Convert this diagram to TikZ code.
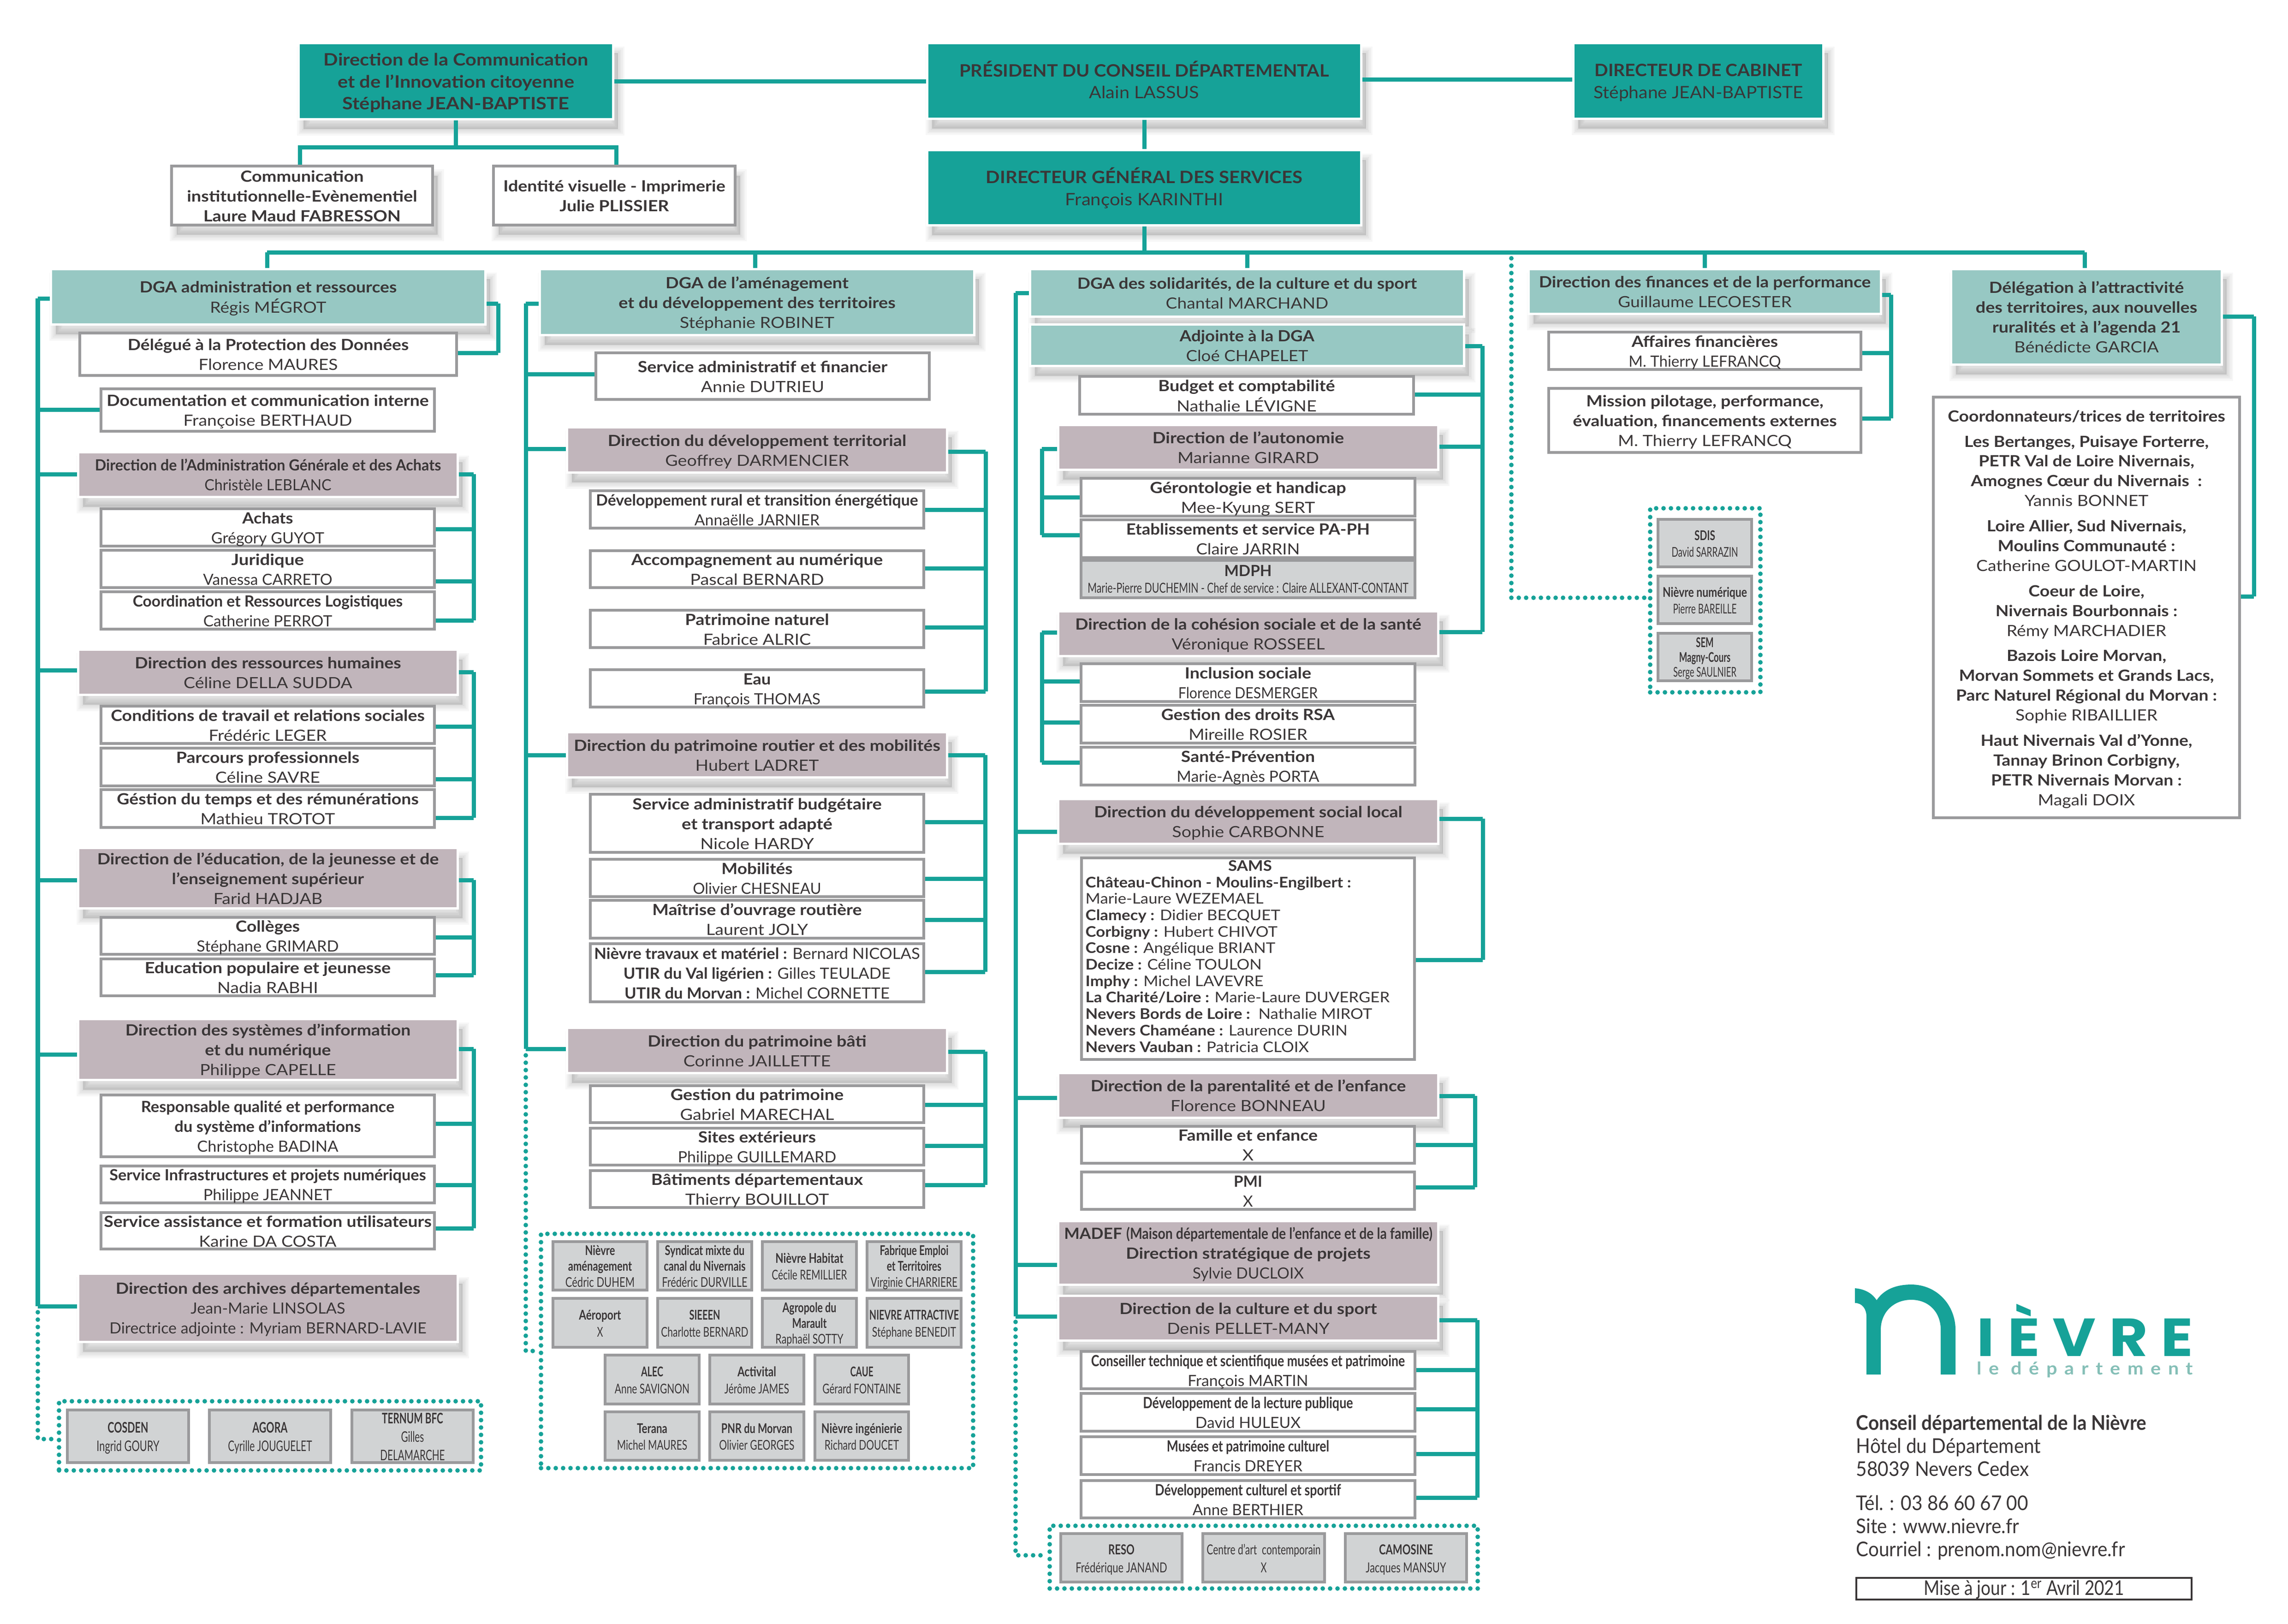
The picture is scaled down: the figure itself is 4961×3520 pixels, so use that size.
\documentclass[tikz,border=0pt]{standalone}
\usepackage{fontspec}
\usepackage{graphicx}
\usetikzlibrary{shadows}
\setmainfont{Lato}[BoldFont={Lato Bold}]
\newfontfamily\logof[LetterSpace=22]{Poppins}
\newfontfamily\logos[LetterSpace=38]{Lato Bold}
\definecolor{tealc}{HTML}{16A298}
\definecolor{ltealc}{HTML}{97C8C3}
\definecolor{mauvec}{HTML}{C1B5BB}
\definecolor{grayf}{HTML}{D1D3D4}
\definecolor{bord}{HTML}{9A9A9C}
\definecolor{txt}{HTML}{3A3637}
\definecolor{slog}{HTML}{85BFB7}
\newsavebox\fitbox
\newsavebox\flbox
\newcommand\Tb[1]{\begin{tabular}{@{}c@{}}#1\end{tabular}}
\newcommand\TbL[1]{\begin{tabular}{@{}l@{}}#1\end{tabular}}
\newcommand\FL[2]{\sbox\flbox{#2}\pgfmathsetmacro\flr{#1*0.28453/\the\wd\flbox}\scalebox{\flr}[1]{\usebox\flbox}}
\newcommand\Ct[1]{\sbox\fitbox{\Tb{#1}}\raisebox{\dimexpr(\dp\fitbox-\ht\fitbox)/2-1.3pt\relax}{\usebox\fitbox}}
\newcommand\Fit[2]{\sbox\fitbox{\Tb{#2}}\pgfmathsetmacro\fitr{#1*0.28453/\the\wd\fitbox}\raisebox{\dimexpr(\dp\fitbox-\ht\fitbox)/2-1.3pt\relax}{\scalebox{\fitr}[1]{\usebox\fitbox}}}
\newcommand\FitL[2]{\sbox\fitbox{\TbL{#2}}\pgfmathsetmacro\fitr{#1*0.28453/\the\wd\fitbox}\raisebox{\dimexpr(\dp\fitbox-\ht\fitbox)/2-1.3pt\relax}{\scalebox{\fitr}[1]{\usebox\fitbox}}}
\newcommand\Nm[3]{\Fit{#1}{\textbf{#2}\\#3}}
\newcommand\NL[4]{\Ct{\FL{#1}{\textbf{#2}}\\\FL{#3}{#4}}}
% boxes: gray-outlined, outer edges given
\newcommand\Bx[7]{\node[#1,minimum width={(#5-#3-6)*0.01cm},minimum height={(#6-#4-6)*0.01cm}] (#2) at ({(#3+#5)/2},{(#4+#6)/2}) {#7};}
% filled boxes with white rim, fill edges given
\newcommand\Cx[7]{\node[#1,minimum width={(#5-#3+5)*0.01cm},minimum height={(#6-#4+5)*0.01cm}] (#2) at ({(#3+#5)/2},{(#4+#6)/2}) {#7};}
\newcommand\RB[4]{\draw[conn] (#2.east |- 0,#3) -- (#1,#3);
 \foreach \n/\y in {#4}{\draw[conn] (\n.east |- 0,\y) -- (#1,\y); \xdef\lasty{\y}}
 \draw[conn,line cap=square] (#1,#3) -- (#1,\lasty);}
\newcommand\LB[4]{\draw[conn] (#2.west |- 0,#3) -- (#1,#3);
 \foreach \n/\y in {#4}{\draw[conn] (\n.west |- 0,\y) -- (#1,\y); \xdef\lasty{\y}}
 \draw[conn,line cap=square] (#1,#3) -- (#1,\lasty);}
\tikzset{
 conn/.style={draw=tealc,line width=2.56pt},
 dots/.style={draw=tealc,line width=2.8pt,line cap=round,dash pattern=on 0pt off 4.55pt},
 fs/.style 2 args={font=\fontsize{#1}{#2}\selectfont},
 basen/.style={inner sep=0pt,text=txt,text height=0pt,text depth=0pt,fs={9.5}{12.2}},
 gbox/.style={basen,draw=bord,line width=1.7pt,fill=white},
 sbox/.style={basen,draw=bord,line width=1.7pt,fill=grayf},
 softshadow/.style={
  general shadow={shadow xshift=3pt,shadow yshift=-6pt,draw=black,fill=black,draw opacity=.03,fill opacity=.03,line width=8pt},
  general shadow={shadow xshift=3pt,shadow yshift=-6pt,draw=black,fill=black,draw opacity=.03,fill opacity=.03,line width=6pt},
  general shadow={shadow xshift=3pt,shadow yshift=-6pt,draw=black,fill=black,draw opacity=.03,fill opacity=.03,line width=4pt},
  general shadow={shadow xshift=3pt,shadow yshift=-6pt,draw=black,fill=black,draw opacity=.03,fill opacity=.03,line width=2pt}},
 tbox/.style={basen,softshadow,fill=tealc,draw=white,line width=1.42pt,fs={10.5}{13.5}},
 lbox/.style={basen,softshadow,fill=ltealc,draw=white,line width=1.42pt},
 mbox/.style={basen,softshadow,fill=mauvec,draw=white,line width=1.42pt},
 gsbox/.style={gbox,softshadow},
 dotbox/.style={dots,inner sep=0pt},
 plain/.style={inner sep=0pt,text=txt},
}
\begin{document}
\begin{tikzpicture}[x=0.01cm,y=-0.01cm]
\useasboundingbox (0,0) rectangle (4961,3520);
\fill[white] (0,0) rectangle (4961,3520);
% ---------- top
\Cx{tbox}{comm}{650}{96}{1327}{256}{\Fit{573}{\textbf{Direction de la Communication}\\\textbf{et de l’Innovation citoyenne}\\\textbf{Stéphane JEAN-BAPTISTE}}}
\Cx{tbox}{pres}{2013}{96}{2949}{255}{\Nm{801}{PRÉSIDENT DU CONSEIL DÉPARTEMENTAL}{Alain LASSUS}}
\Cx{tbox}{cab}{3414}{96}{3951}{255}{\Nm{454}{DIRECTEUR DE CABINET}{Stéphane JEAN-BAPTISTE}}
\Cx{tbox}{dgs}{2013}{328}{2949}{486}{\Nm{686}{DIRECTEUR GÉNÉRAL DES SERVICES}{François KARINTHI}}
\Bx{gsbox}{ccom}{369}{357}{941}{491}{\Fit{499}{\textbf{Communication}\\\textbf{institutionnelle-Evènementiel}\\\textbf{Laure Maud FABRESSON}}}
\Bx{gsbox}{cidv}{1067}{357}{1597}{491}{\Fit{481}{\textbf{Identité visuelle - Imprimerie}\\\textbf{Julie PLISSIER}}}
% ---------- column 1
\Cx{lbox}{dgaa}{113}{586}{1050}{701}{\Nm{557}{DGA administration et ressources}{Régis MÉGROT}}
\Bx{gbox}{dpd}{170}{719}{993}{817}{\Nm{609}{Délégué à la Protection des Données}{Florence MAURES}}
\Bx{gbox}{doc}{216}{840}{945}{938}{\Nm{698}{Documentation et communication interne}{Françoise BERTHAUD}}
\Cx{mbox}{dadm}{172}{983}{990}{1075}{\Nm{750}{Direction de l’Administration Générale et des Achats}{Christèle LEBLANC}}
\Bx{gbox}{ach}{216}{1100}{945}{1187}{\NL{110}{Achats}{245}{Grégory GUYOT}}
\Bx{gbox}{jur}{216}{1190}{945}{1277}{\NL{157}{Juridique}{280}{Vanessa CARRETO}}
\Bx{gbox}{coo}{216}{1280}{945}{1367}{\Nm{585}{Coordination et Ressources Logistiques}{Catherine PERROT}}
\Cx{mbox}{drh}{172}{1411}{990}{1504}{\Nm{577}{Direction des ressources humaines}{Céline DELLA SUDDA}}
\Bx{gbox}{cond}{216}{1528}{945}{1615}{\Nm{680}{Conditions de travail et relations sociales}{Frédéric LEGER}}
\Bx{gbox}{parc}{216}{1619}{945}{1707}{\Nm{397}{Parcours professionnels}{Céline SAVRE}}
\Bx{gbox}{gest}{216}{1709}{945}{1797}{\Nm{654}{Géstion du temps et des rémunérations}{Mathieu TROTOT}}
\Cx{mbox}{dedu}{172}{1841}{990}{1967}{\Fit{740}{\textbf{Direction de l’éducation, de la jeunesse et de}\\\textbf{l’enseignement supérieur}\\Farid HADJAB}}
\Bx{gbox}{coll}{216}{1986}{945}{2072}{\NL{139}{Collèges}{308}{Stéphane GRIMARD}}
\Bx{gbox}{edup}{216}{2076}{945}{2162}{\Nm{533}{Education populaire et jeunesse}{Nadia RABHI}}
\Cx{mbox}{dsi}{172}{2212}{990}{2339}{\Fit{618}{\textbf{Direction des systèmes d’information}\\\textbf{et du numérique}\\Philippe CAPELLE}}
\Bx{gbox}{resp}{216}{2371}{945}{2511}{\Fit{549}{\textbf{Responsable qualité et performance}\\\textbf{du système d’informations}\\Christophe BADINA}}
\Bx{gbox}{sinf}{216}{2525}{945}{2611}{\Nm{686}{Service Infrastructures et projets numériques}{Philippe JEANNET}}
\Bx{gbox}{sass}{216}{2626}{945}{2711}{\Nm{710}{Service assistance et formation utilisateurs}{Karine DA COSTA}}
\Cx{mbox}{darch}{172}{2764}{990}{2907}{\Ct{\FL{660}{\textbf{Direction des archives départementales}}\\\FL{335}{Jean-Marie LINSOLAS}\\\FL{687}{Directrice adjointe : Myriam BERNARD-LAVIE}}}
\node[dotbox,draw,minimum width={915*0.01cm},minimum height={150*0.01cm}] (dbA) at (585.5,3113) {};
\Bx{sbox,fs={9}{11.4}}{cos}{143}{3054}{412}{3174}{\NL{88}{COSDEN}{136}{Ingrid GOURY}}
\Bx{sbox,fs={9}{11.4}}{ago}{451}{3054}{720}{3174}{\NL{76}{AGORA}{182}{Cyrille JOUGUELET}}
\Bx{sbox,fs={9}{11.4}}{ter}{760}{3054}{1029}{3174}{\Fit{140}{\textbf{TERNUM BFC}\\Gilles\\DELAMARCHE}}
% ---------- column 2
\Cx{lbox}{dgab}{1173}{586}{2110}{724}{\Fit{600}{\textbf{DGA de l’aménagement}\\\textbf{et du développement des territoires}\\Stéphanie ROBINET}}
\Bx{gbox}{sadm}{1289}{762}{2018}{869}{\Nm{541}{Service administratif et financier}{Annie DUTRIEU}}
\Cx{mbox}{ddt}{1232}{929}{2051}{1022}{\Nm{647}{Direction du développement territorial}{Geoffrey DARMENCIER}}
\Bx{gbox}{devr}{1277}{1061}{2006}{1148}{\Nm{698}{Développement rural et transition énergétique}{Annaëlle JARNIER}}
\Bx{gbox}{acc}{1277}{1191}{2006}{1277}{\Nm{545}{Accompagnement au numérique}{Pascal BERNARD}}
\Bx{gbox}{patn}{1277}{1320}{2006}{1407}{\Nm{312}{Patrimoine naturel}{Fabrice ALRIC}}
\Bx{gbox}{eau}{1277}{1449}{2006}{1536}{\NL{60}{Eau}{275}{François THOMAS}}
\Cx{mbox}{dpr}{1232}{1590}{2051}{1683}{\Nm{794}{Direction du patrimoine routier et des mobilités}{Hubert LADRET}}
\Bx{gbox}{sbud}{1277}{1719}{2006}{1851}{\Fit{540}{\textbf{Service administratif budgétaire}\\\textbf{et transport adapté}\\Nicole HARDY}}
\Bx{gbox}{mob}{1277}{1860}{2006}{1947}{\NL{154}{Mobilités}{278}{Olivier CHESNEAU}}
\Bx{gbox}{moa}{1277}{1949}{2006}{2037}{\Nm{454}{Maîtrise d’ouvrage routière}{Laurent JOLY}}
\Bx{gbox}{niev}{1277}{2043}{2006}{2175}{\Fit{706}{\textbf{Nièvre travaux et matériel :} Bernard NICOLAS\\\textbf{UTIR du Val ligérien :} Gilles TEULADE\\\textbf{UTIR du Morvan :} Michel CORNETTE}}
\Cx{mbox}{dpb}{1232}{2231}{2051}{2324}{\Nm{474}{Direction du patrimoine bâti}{Corinne JAILLETTE}}
\Bx{gbox}{gpat}{1277}{2351}{2006}{2437}{\Nm{375}{Gestion du patrimoine}{Gabriel MARECHAL}}
\Bx{gbox}{site}{1277}{2443}{2006}{2529}{\NL{255}{Sites extérieurs}{343}{Philippe GUILLEMARD}}
\Bx{gbox}{bat}{1277}{2535}{2006}{2621}{\Nm{459}{Bâtiments départementaux}{Thierry BOUILLOT}}
\node[dotbox,draw,minimum width={937*0.01cm},minimum height={508*0.01cm}] (dbB) at (1641.5,2929) {};
\Bx{sbox,fs={8.3}{9.7}}{rA}{1196}{2689}{1406}{2800}{\Fit{150}{\textbf{Nièvre}\\\textbf{aménagement}\\Cédric DUHEM}}
\Bx{sbox,fs={8.3}{9.7}}{rB}{1423}{2689}{1633}{2800}{\Fit{185}{\textbf{Syndicat mixte du}\\\textbf{canal du Nivernais}\\Frédéric DURVILLE}}
\Bx{sbox,fs={8.3}{10.5}}{rC}{1650}{2689}{1860}{2800}{\NL{147}{Nièvre Habitat}{163}{Cécile REMILLIER}}
\Bx{sbox,fs={8.3}{9.7}}{rD}{1877}{2689}{2087}{2800}{\Fit{188}{\textbf{Fabrique Emploi}\\\textbf{et Territoires}\\Virginie CHARRIERE}}
\Bx{sbox,fs={8.3}{10.5}}{rE}{1196}{2812}{1406}{2924}{\NL{91}{Aéroport}{13}{X}}
\Bx{sbox,fs={8.3}{10.5}}{rF}{1423}{2812}{1633}{2924}{\NL{67}{SIEEEN}{189}{Charlotte BERNARD}}
\Bx{sbox,fs={8.3}{9.7}}{rG}{1650}{2812}{1860}{2924}{\Fit{147}{\textbf{Agropole du}\\\textbf{Marault}\\Raphaël SOTTY}}
\Bx{sbox,fs={8.3}{10.5}}{rH}{1877}{2812}{2087}{2924}{\NL{194}{NIEVRE ATTRACTIVE}{182}{Stéphane BENEDIT}}
\Bx{sbox,fs={8.3}{10.5}}{rI}{1309}{2935}{1519}{3047}{\NL{48}{ALEC}{162}{Anne SAVIGNON}}
\Bx{sbox,fs={8.3}{10.5}}{rJ}{1536}{2935}{1746}{3047}{\NL{84}{Activital}{140}{Jérôme JAMES}}
\Bx{sbox,fs={8.3}{10.5}}{rK}{1764}{2935}{1973}{3047}{\NL{50}{CAUE}{170}{Gérard FONTAINE}}
\Bx{sbox,fs={8.3}{10.5}}{rL}{1309}{3058}{1519}{3169}{\NL{66}{Terana}{152}{Michel MAURES}}
\Bx{sbox,fs={8.3}{10.5}}{rM}{1536}{3058}{1746}{3169}{\NL{154}{PNR du Morvan}{163}{Olivier GEORGES}}
\Bx{sbox,fs={8.3}{10.5}}{rN}{1764}{3058}{1973}{3169}{\NL{175}{Nièvre ingénierie}{161}{Richard DOUCET}}
% ---------- column 3
\Cx{lbox}{dgac}{2236}{586}{3172}{684}{\Nm{736}{DGA des solidarités, de la culture et du sport}{Chantal MARCHAND}}
\Cx{lbox}{adj}{2236}{706}{3172}{791}{\Nm{292}{Adjointe à la DGA}{Cloé CHAPELET}}
\Bx{gbox}{bud}{2338}{813}{3068}{901}{\Nm{383}{Budget et comptabilité}{Nathalie LÉVIGNE}}
\Cx{mbox}{daut}{2297}{924}{3116}{1016}{\Nm{415}{Direction de l’autonomie}{Marianne GIRARD}}
\Bx{gbox}{ger}{2341}{1034}{3071}{1122}{\Nm{425}{Gérontologie et handicap}{Mee-Kyung SERT}}
\Bx{gbox}{etab}{2341}{1124}{3071}{1212}{\Nm{528}{Etablissements et service PA-PH}{Claire JARRIN}}
\Bx{sbox,fs={9.5}{10.2}}{mdph}{2341}{1212}{3071}{1299}{\Ct{\FL{103}{\textbf{MDPH}}\\\FL{695}{\fontsize{8.5}{10}\selectfont Marie-Pierre DUCHEMIN - Chef de service : Claire ALLEXANT-CONTANT}}}
\Cx{mbox}{dcoh}{2297}{1328}{3116}{1420}{\Nm{750}{Direction de la cohésion sociale et de la santé}{Véronique ROSSEEL}}
\Bx{gbox}{incl}{2341}{1436}{3071}{1524}{\NL{274}{Inclusion sociale}{302}{Florence DESMERGER}}
\Bx{gbox}{grsa}{2341}{1526}{3071}{1614}{\Nm{376}{Gestion des droits RSA}{Mireille ROSIER}}
\Bx{gbox}{sant}{2341}{1617}{3071}{1705}{\NL{290}{Santé-Prévention}{309}{Marie-Agnès PORTA}}
\Cx{mbox}{ddsl}{2297}{1735}{3116}{1827}{\Nm{668}{Direction du développement social local}{Sophie CARBONNE}}
\Bx{gbox}{sams}{2342}{1857}{3070}{2300}{}
\node[basen,fs={9}{10.15},anchor=west] (samst) at (2353,2073) {\FitL{659}{\multicolumn{1}{@{}c@{}}{\hspace*{14pt}\textbf{SAMS}}\\\textbf{Château-Chinon - Moulins-Engilbert :}\\Marie-Laure WEZEMAEL\\\textbf{Clamecy :} Didier BECQUET\\\textbf{Corbigny :} Hubert CHIVOT\\\textbf{Cosne :} Angélique BRIANT\\\textbf{Decize :} Céline TOULON\\\textbf{Imphy :} Michel LAVEVRE\\\textbf{La Charité/Loire :} Marie-Laure DUVERGER\\\textbf{Nevers Bords de Loire :}\ \ Nathalie MIROT\\\textbf{Nevers Chaméane :} Laurence DURIN\\\textbf{Nevers Vauban :} Patricia CLOIX}};
\Cx{mbox}{dpe}{2297}{2329}{3116}{2421}{\Nm{683}{Direction de la parentalité et de l’enfance}{Florence BONNEAU}}
\Bx{gbox}{fam}{2342}{2439}{3070}{2525}{\Nm{302}{Famille et enfance}{X}}
\Bx{gbox}{pmi}{2342}{2538}{3070}{2625}{\Nm{62}{PMI}{X}}
\Cx{mbox}{madef}{2297}{2650}{3116}{2783}{\Ct{\FL{798}{\textbf{MADEF} \scalebox{.8}[1]{\textbf{(Maison départementale de l’enfance et de la famille)}}}\\\FL{530}{\textbf{Direction stratégique de projets}}\\\FL{241}{Sylvie DUCLOIX}}}
\Cx{mbox}{dcs}{2297}{2812}{3116}{2904}{\Nm{558}{Direction de la culture et du sport}{Denis PELLET-MANY}}
\Bx{gbox}{cons}{2341}{2927}{3071}{3014}{\NL{680}{Conseiller technique et scientifique musées et patrimoine}{261}{François MARTIN}}
\Bx{gbox}{lect}{2341}{3018}{3071}{3106}{\NL{455}{Développement de la lecture publique}{228}{David HULEUX}}
\Bx{gbox}{mus}{2341}{3112}{3071}{3200}{\NL{352}{Musées et patrimoine culturel}{236}{Francis DREYER}}
\Bx{gbox}{cult}{2341}{3207}{3071}{3294}{\NL{403}{Développement culturel et sportif}{240}{Anne BERTHIER}}
\node[dotbox,draw,minimum width={928*0.01cm},minimum height={136*0.01cm}] (dbC) at (2740,3376) {};
\Bx{sbox,fs={8.5}{11.3}}{res}{2297}{3322}{2566}{3433}{\NL{57}{RESO}{198}{Frédérique JANAND}}
\Bx{sbox,fs={8.5}{11.3}}{cen}{2605}{3322}{2875}{3433}{\Ct{\FL{247}{Centre d’art\ \ contemporain}\\\FL{13}{X}}}
\Bx{sbox,fs={8.5}{11.3}}{cam}{2914}{3322}{3183}{3433}{\NL{117}{CAMOSINE}{174}{Jacques MANSUY}}
% ---------- column 4
\Cx{lbox}{dfin}{3317}{586}{4076}{678}{\Nm{719}{Direction des finances et de la performance}{Guillaume LECOESTER}}
\Bx{gbox}{aff}{3355}{717}{4038}{804}{\NL{317}{Affaires financières}{330}{M. Thierry LEFRANCQ}}
\Bx{gbox}{mis}{3355}{839}{4038}{984}{\Fit{572}{\textbf{Mission pilotage, performance,}\\\textbf{évaluation, financements externes}\\M. Thierry LEFRANCQ}}
\node[dotbox,draw,minimum width={239*0.01cm},minimum height={399*0.01cm}] (dbD) at (3697.5,1301.5) {};
\Bx{sbox,fs={8.3}{10.2}}{sdis}{3592}{1123}{3801}{1232}{\NL{45}{SDIS}{144}{David SARRAZIN}}
\Bx{sbox,fs={8.3}{10.2}}{nnum}{3592}{1246}{3801}{1355}{\NL{183}{Nièvre numérique}{138}{Pierre BAREILLE}}
\Bx{sbox,fs={8.3}{9.1}}{sem}{3592}{1370}{3801}{1479}{\Fit{137}{\textbf{SEM}\\\textbf{Magny-Cours}\\Serge SAULNIER}}
% ---------- column 5
\Cx{lbox}{deleg}{4233}{586}{4815}{788}{\Fit{480}{\textbf{Délégation à l’attractivité}\\\textbf{des territoires, aux nouvelles}\\\textbf{ruralités et à l’agenda 21}\\Bénédicte GARCIA}}
\Bx{gbox}{coord}{4189}{858}{4859}{1776}{\Fit{601}{\textbf{Coordonnateurs/trices de territoires}\\[3.4pt]\textbf{Les Bertanges, Puisaye Forterre,}\\\textbf{PETR Val de Loire Nivernais,}\\\textbf{Amognes Cœur du Nivernais\ \ :}\\Yannis BONNET\\[3.4pt]\textbf{Loire Allier, Sud Nivernais,}\\\textbf{Moulins Communauté :}\\Catherine GOULOT-MARTIN\\[3.4pt]\textbf{Coeur de Loire,}\\\textbf{Nivernais Bourbonnais :}\\Rémy MARCHADIER\\[3.4pt]\textbf{Bazois Loire Morvan,}\\\textbf{Morvan Sommets et Grands Lacs,}\\\textbf{Parc Naturel Régional du Morvan :}\\Sophie RIBAILLIER\\[3.4pt]\textbf{Haut Nivernais Val d’Yonne,}\\\textbf{Tannay Brinon Corbigny,}\\\textbf{PETR Nivernais Morvan :}\\Magali DOIX}}
% ---------- logo
\fill[tealc] (4022,2793) .. controls (4045,2795) and (4060,2805) .. (4069,2819) .. controls (4085,2795) and (4112,2785) .. (4144,2785) .. controls (4200,2785) and (4240,2830) .. (4240,2883) -- (4240,2980) -- (4208,2980) -- (4208,2883) .. controls (4208,2845) and (4182,2818) .. (4144,2818) .. controls (4106,2818) and (4078,2845) .. (4078,2883) -- (4078,2980) -- (4047,2980) -- (4047,2855) .. controls (4047,2838) and (4038,2825) .. (4022,2825) -- cycle;
\node[plain,text=tealc,anchor=base west,font=\fontsize{33}{33}\logof\bfseries] (lgA) at (4286,2940) {\FL{468}{IÈVRE}};
\node[plain,text=slog,anchor=base west,font=\fontsize{10.8}{12}\logos] (lgB) at (4286,2980) {\FL{468}{le département}};
\node[plain,fs={12.5}{14.2},anchor=west,text height=0pt,text depth=0pt] (addr) at (4024,3223) {\FitL{629}{\textbf{Conseil départemental de la Nièvre}\\Hôtel du Département\\58039 Nevers Cedex\\[7pt]Tél. : 03 86 60 67 00\\Site : www.nievre.fr\\Courriel : prenom.nom@nievre.fr}};
\Bx{basen,draw=txt,line width=.9pt,fs={12.5}{14}}{maj}{4022}{3418}{4755}{3471}{\Fit{434}{Mise à jour : 1\textsuperscript{er} Avril 2021}}
% ---------- connectors
\draw[conn] (comm.east |- 0,176) -- (pres.west |- 0,176);
\draw[conn] (pres.east |- 0,172) -- (cab.west |- 0,172);
\draw[conn] (pres.south) -- (dgs.north);
\coordinate (cj) at (comm.south |- 0,319);
\draw[conn] (comm.south) -- (cj);
\draw[conn,line cap=square] (ccom.north -| 650,0) -- (650,319) -- (1336,319) -- (cidv.north -| 1336,0);
\coordinate (busl) at (579,547);
\coordinate (busr) at (4520,547);
\draw[conn,line cap=square] (busl) -- (busr);
\draw[conn] (dgs.south) -- (dgs.south |- busl);
\draw[conn] (busl) -- (dgaa.north -| busl);
\draw[conn] (1637,547) -- (dgab.north -| 1637,0);
\draw[conn] (2704,547) -- (dgac.north -| 2704,0);
\draw[conn] (3696,547) -- (dfin.north -| 3696,0);
\draw[conn] (busr) -- (deleg.north -| busr);
% column 1
\LB{82}{dgaa}{647}{doc/888,dadm/1028,drh/1453,dedu/1908,dsi/2286,darch/2832}
\RB{1080}{dgaa}{658}{dpd/765}
\RB{1027}{dadm}{1028}{ach/1147,jur/1260,coo/1345}
\RB{1027}{drh}{1457}{cond/1575,parc/1689,gest/1773}
\RB{1027}{dedu}{1908}{coll/2032,edup/2114}
\RB{1027}{dsi}{2274}{resp/2436,sinf/2569,sass/2663}
\draw[dots] (82,2845) -- (82,3120) -- (dbA.west |- 0,3120);
% column 2
\LB{1140}{dgab}{658}{sadm/811,ddt/973,dpr/1637,dpb/2274}
\RB{2137}{ddt}{979}{devr/1105,acc/1232,patn/1360,eau/1499}
\RB{2136}{dpr}{1637}{sbud/1782,mob/1905,moa/1994,niev/2107}
\RB{2136}{dpb}{2280}{gpat/2395,site/2484,bat/2569}
\draw[dots] (1140,2288) -- (1140,2929) -- (dbB.west |- 0,2929);
% column 3
\LB{2202}{dgac}{635}{ddsl/1803,dpe/2380,madef/2742,dcs/2854}
\RB{3214}{adj}{750}{bud/855,daut/968,dcoh/1370}
\LB{2259}{daut}{973}{ger/1078,etab/1160}
\LB{2259}{dcoh}{1371}{incl/1477,grsa/1566,sant/1653}
\RB{3215}{ddsl}{1775}{sams/2081}
\RB{3198}{dpe}{2376}{fam/2482,pmi/2574}
\RB{3203}{dcs}{2862}{cons/2970,lect/3055,mus/3152,cult/3247}
\draw[dots] (2202,2866) -- (2202,3372) -- (dbC.west |- 0,3372);
% column 4, 5
\RB{4100}{dfin}{639}{aff/765,mis/907}
\RB{4887}{deleg}{686}{coord/1293}
\draw[dots] (3277,560) -- (3277,1296) -- (dbD.west |- 0,1296);
\end{tikzpicture}
\end{document}
